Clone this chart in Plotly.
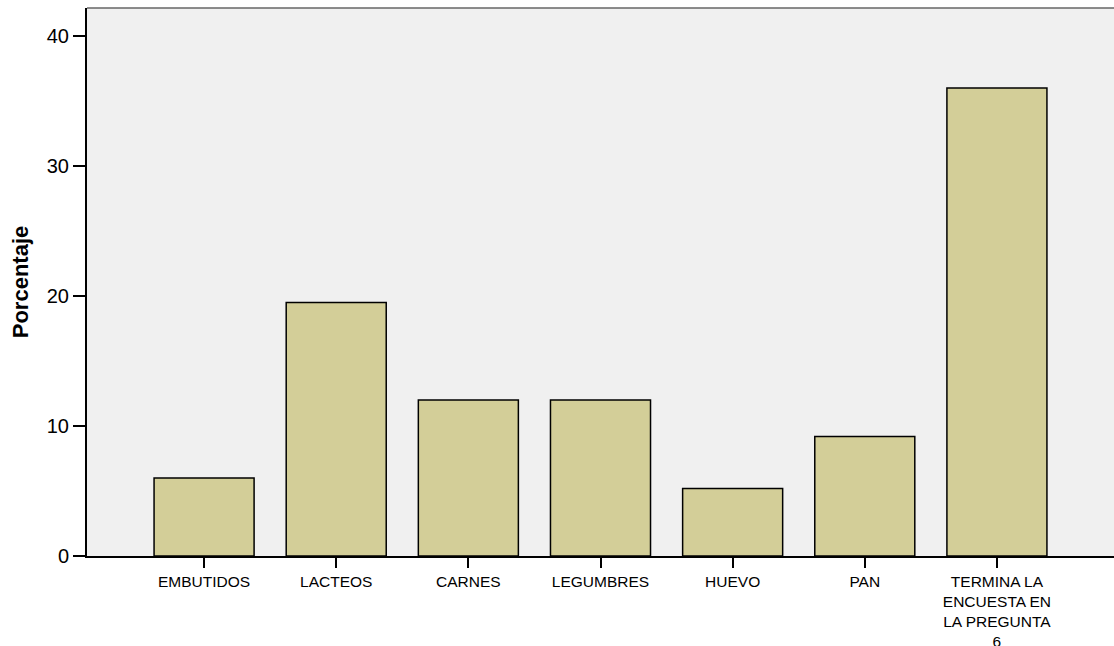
import plotly.graph_objects as go

categories = ["EMBUTIDOS", "LACTEOS", "CARNES", "LEGUMBRES", "HUEVO", "PAN",
              "TERMINA LA<br>ENCUESTA EN<br>LA PREGUNTA<br>6"]
porcentaje = [6.0, 19.5, 12.0, 12.0, 5.2, 9.2, 36.0]
y_ticks = [0, 10, 20, 30, 40]

fig = go.Figure(go.Bar(
    x=list(range(len(categories))),
    y=porcentaje,
    marker=dict(color="#D3CE98", line=dict(color="black", width=1.5)),
))

fig.update_layout(
    width=1114, height=646,
    margin=dict(l=87, r=0, t=8, b=90),
    paper_bgcolor="white",
    plot_bgcolor="#F0F0F0",
    bargap=0.243,
    showlegend=False,
    font=dict(family="Liberation Sans, Arial, sans-serif", color="black", size=17),
)
fig.update_xaxes(
    range=[-0.886, 6.886],
    tickmode="array",
    tickvals=list(range(len(categories))),
    ticktext=categories,
    ticks="outside", ticklen=10, tickwidth=2, tickcolor="black",
    showline=True, linecolor="black", linewidth=2,
    showgrid=False, zeroline=False, automargin=False,
    tickfont=dict(size=15.5),
)
fig.update_yaxes(
    range=[0, 42.15],
    tickmode="array", tickvals=y_ticks,
    ticks="outside", ticklen=12, tickwidth=2, tickcolor="black",
    showline=True, linecolor="black", linewidth=2,
    showgrid=False, zeroline=False, automargin=False,
    tickfont=dict(size=20),
    title=dict(text="<b>Porcentaje</b>", font=dict(size=22), standoff=12),
)
fig.add_shape(type="line", xref="paper", yref="paper", x0=0, x1=1, y0=1, y1=1,
              line=dict(color="#666666", width=1.5))

fig.write_html("out.html", config={"displayModeBar": False},
               post_script="document.body.style.margin='0';document.body.style.overflow='hidden';")
